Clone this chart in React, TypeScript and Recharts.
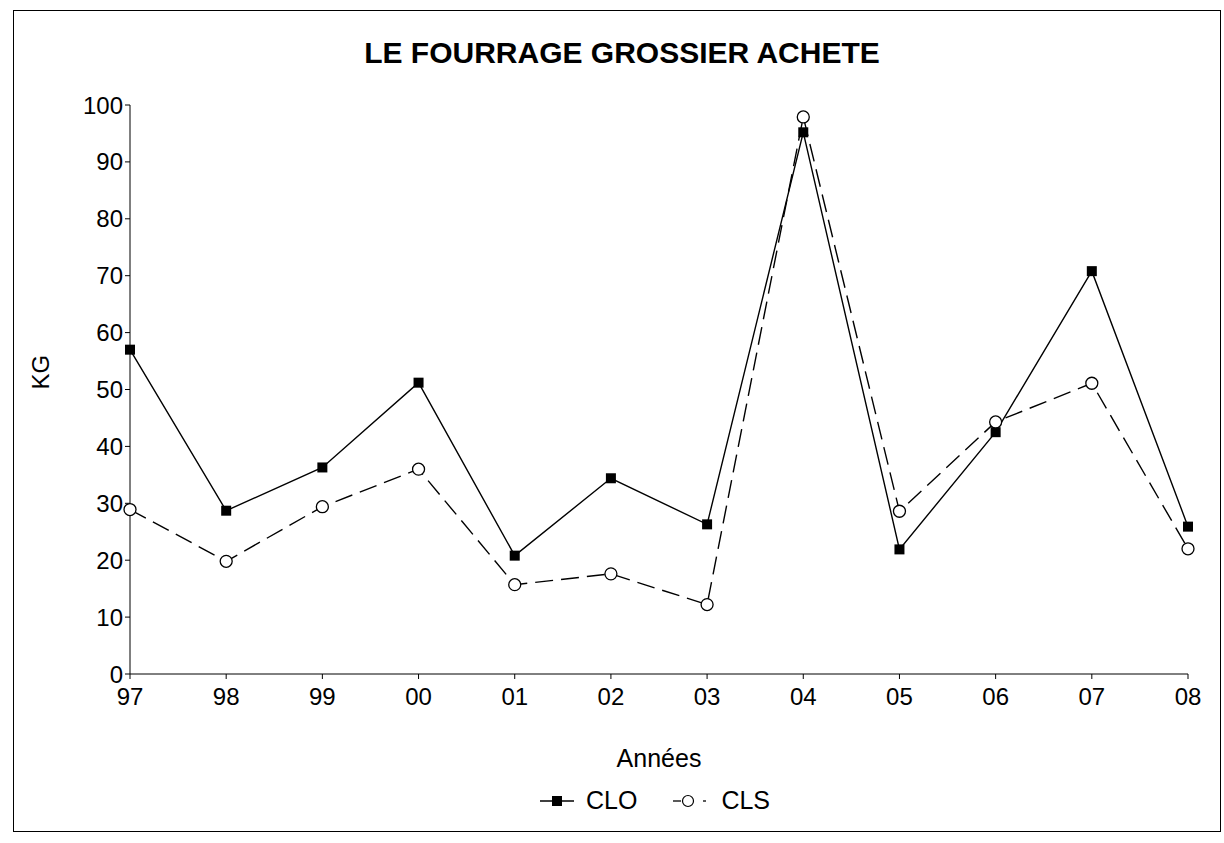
import { Legend, Line, LineChart, XAxis, YAxis } from "recharts";

const years = ["97", "98", "99", "00", "01", "02", "03", "04", "05", "06", "07", "08"];
const clo = [57, 28.7, 36.3, 51.2, 20.8, 34.4, 26.3, 95.2, 21.9, 42.5, 70.8, 25.9];
const cls = [28.9, 19.8, 29.4, 36, 15.7, 17.6, 12.2, 97.9, 28.6, 44.3, 51.1, 22];
const yTicks = [0, 10, 20, 30, 40, 50, 60, 70, 80, 90, 100];

const data = years.map((y, i) => ({ year: y, CLO: clo[i], CLS: cls[i] }));

const font = "'Liberation Sans', Arial, sans-serif";

const SquareDot = (props: any) => {
  const { cx, cy, index } = props;
  if (cx == null || cy == null) return null;
  return <rect key={`sq-${index}`} x={cx - 5} y={cy - 5} width={10} height={10} fill="#000" />;
};

const CircleDot = (props: any) => {
  const { cx, cy, index } = props;
  if (cx == null || cy == null) return null;
  return <circle key={`ci-${index}`} cx={cx} cy={cy} r={6} fill="#fff" stroke="#000" strokeWidth={1.3} />;
};

const renderLegend = () => (
  <div style={{ display: "flex", justifyContent: "center", alignItems: "center", gap: 36, fontFamily: font, fontSize: 25, color: "#000", paddingLeft: 52 }}>
    <div style={{ display: "flex", alignItems: "center", gap: 12 }}>
      <svg width={34} height={14}>
        <line x1={0} y1={7} x2={34} y2={7} stroke="#000" strokeWidth={1.3} />
        <rect x={12} y={2} width={10} height={10} fill="#000" />
      </svg>
      <span>CLO</span>
    </div>
    <div style={{ display: "flex", alignItems: "center", gap: 12 }}>
      <svg width={36} height={14}>
        <line x1={0} y1={7} x2={8} y2={7} stroke="#000" strokeWidth={1.3} />
        <circle cx={15} cy={7} r={5.5} fill="#fff" stroke="#000" strokeWidth={1.2} />
        <line x1={30} y1={7} x2={33} y2={7} stroke="#000" strokeWidth={1.3} />
      </svg>
      <span>CLS</span>
    </div>
  </div>
);

export default function App() {
  return (
    <div style={{ position: "absolute", left: 0, top: 0, width: 1224, height: 843, background: "#fff" }}>
      <div
        style={{
          position: "absolute",
          left: 13,
          top: 10,
          width: 1208,
          height: 822,
          border: "1.5px solid #000",
          boxSizing: "border-box",
        }}
      />
      <div
        style={{
          position: "absolute",
          left: 0,
          width: 1244,
          top: 36,
          textAlign: "center",
          fontFamily: font,
          fontWeight: "bold",
          fontSize: 30,
        }}
      >
        LE FOURRAGE GROSSIER ACHETE
      </div>
      <div style={{ position: "absolute", left: 0, top: 0 }}>
        <LineChart width={1224} height={843} data={data} margin={{ top: 105, right: 36, left: 70, bottom: 30 }}>
          <XAxis
            dataKey="year"
            stroke="#000"
            tickSize={5}
            tickMargin={9}
            tick={{ fontSize: 24, fill: "#000", fontFamily: font }}
            height={110}
            label={{ value: "Années", position: "insideBottom", offset: 17, style: { fontSize: 25, fill: "#000", fontFamily: font } }}
          />
          <YAxis
            domain={[0, 100]}
            ticks={yTicks}
            interval={0}
            stroke="#000"
            width={60}
            tickSize={5}
            tickMargin={2}
            tick={{ fontSize: 24, fill: "#000", fontFamily: font }}
            label={{ value: "KG", angle: -90, position: "insideLeft", offset: -30, style: { fontSize: 24, fill: "#000", fontFamily: font } }}
          />
          <Legend verticalAlign="bottom" content={renderLegend} wrapperStyle={{ bottom: 28 }} />
          <Line
            type="linear"
            dataKey="CLO"
            stroke="#000"
            strokeWidth={1.4}
            dot={<SquareDot />}
            activeDot={false}
            isAnimationActive={false}
          />
          <Line
            type="linear"
            dataKey="CLS"
            stroke="#000"
            strokeWidth={1.4}
            strokeDasharray="18 8"
            dot={<CircleDot />}
            activeDot={false}
            isAnimationActive={false}
          />
        </LineChart>
      </div>
    </div>
  );
}
